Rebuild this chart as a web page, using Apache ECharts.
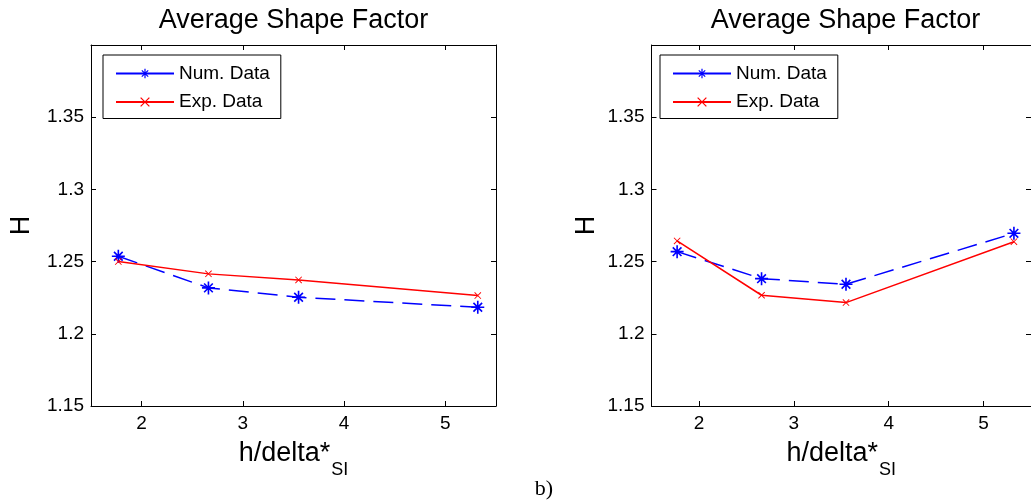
<!DOCTYPE html>
<html><head><meta charset="utf-8">
<script src="https://cdn.jsdelivr.net/npm/echarts@6/dist/echarts.min.js"></script>
<style>html,body{margin:0;padding:0;background:#fff}#c{width:1031px;height:502px}</style>
</head><body><div id="c"></div>
<script>
// ---- data ----
const xValues = [1.77, 2.66, 3.55, 5.32];
const numLeft = [1.2537, 1.2318, 1.2253, 1.2184];
const expLeft = [1.2500, 1.2415, 1.2373, 1.2265];
const numRight = [1.2569, 1.2382, 1.2343, 1.2696];
const expRight = [1.2643, 1.2267, 1.2216, 1.2638];
const xTicks = [2, 3, 4, 5];
const yTicks = [1.15, 1.2, 1.25, 1.3, 1.35];
const seriesNames = ['Num. Data', 'Exp. Data'];
const titleText = 'Average Shape Factor';
const xLabelMain = 'h/delta*';
const xLabelSub = 'SI';
const yLabel = 'H';
const panelLabel = 'b)';

// ---- styling ----
const FONT = 'Liberation Sans, Arial, Helvetica, sans-serif';
const ASTER = 'path://M10.5 0 H13.5 V24 H10.5 Z M0 10.5 H24 V13.5 H0 Z ' +
  'M2.94 5.06 L5.06 2.94 L21.06 18.94 L18.94 21.06 Z ' +
  'M18.94 2.94 L21.06 5.06 L5.06 21.06 L2.94 18.94 Z';
const XMARK = 'path://M-1.2 1.2 L1.2 -1.2 L25.2 22.8 L22.8 25.2 Z ' +
  'M22.8 -1.2 L25.2 1.2 L1.2 25.2 L-1.2 22.8 Z';

const grids = [
  { left: 91, top: 45, width: 405, height: 361 },
  { left: 651.5, top: 45, width: 388, height: 361 }
];
const panels = [
  { num: numLeft, exp: expLeft, yNameGap: 56, legendLeft: 103 },
  { num: numRight, exp: expRight, yNameGap: 51, legendLeft: 660 }
];

const lineAxis = { show: true, onZero: false, lineStyle: { color: '#000', width: 1 } };
const xAxes = [], yAxes = [], series = [], legends = [], titles = [];

panels.forEach((p, i) => {
  const g = grids[i];
  xAxes.push({
    type: 'value', gridIndex: i, position: 'bottom', min: 1.5, max: 5.5,
    axisLine: lineAxis,
    axisTick: { show: true, inside: true, length: 5, customValues: xTicks, lineStyle: { color: '#000' } },
    axisLabel: { show: true, customValues: xTicks, margin: 8, color: '#000', fontSize: 19, fontFamily: FONT },
    splitLine: { show: false },
    name: '{a|' + xLabelMain + '}{s|' + xLabelSub + '}',
    nameLocation: 'middle', nameGap: 34,
    nameTextStyle: {
      color: '#000',
      rich: {
        a: { fontSize: 27, fontFamily: FONT, color: '#000', verticalAlign: 'top' },
        s: { fontSize: 18, fontFamily: FONT, color: '#000', verticalAlign: 'top', padding: [21, 0, 0, 1] }
      }
    }
  });
  xAxes.push({
    type: 'value', gridIndex: i, position: 'top', min: 1.5, max: 5.5,
    axisLine: lineAxis,
    axisTick: { show: true, inside: true, length: 5, customValues: xTicks, lineStyle: { color: '#000' } },
    axisLabel: { show: false },
    splitLine: { show: false }
  });
  yAxes.push({
    type: 'value', gridIndex: i, position: 'left', min: 1.15, max: 1.4,
    axisLine: lineAxis,
    axisTick: { show: true, inside: true, length: 5, customValues: yTicks, lineStyle: { color: '#000' } },
    axisLabel: { show: true, customValues: yTicks, margin: 7, color: '#000', fontSize: 19, fontFamily: FONT },
    splitLine: { show: false },
    name: yLabel, nameLocation: 'middle', nameRotate: 90, nameGap: p.yNameGap,
    nameTextStyle: { fontSize: 27, fontFamily: FONT, color: '#000' }
  });
  yAxes.push({
    type: 'value', gridIndex: i, position: 'right', min: 1.15, max: 1.4,
    axisLine: lineAxis,
    axisTick: { show: true, inside: true, length: 5, customValues: yTicks, lineStyle: { color: '#000' } },
    axisLabel: { show: false },
    splitLine: { show: false }
  });
  series.push({
    type: 'line', name: seriesNames[0], xAxisIndex: 2 * i, yAxisIndex: 2 * i,
    data: xValues.map((x, k) => [x, p.num[k]]),
    symbol: ASTER, symbolSize: 13,
    lineStyle: { color: '#0000ff', width: 1.5, type: [20, 9] },
    itemStyle: { color: '#0000ff', borderWidth: 0 },
    z: 3
  });
  series.push({
    type: 'line', name: seriesNames[1], xAxisIndex: 2 * i, yAxisIndex: 2 * i,
    data: xValues.map((x, k) => [x, p.exp[k]]),
    symbol: XMARK, symbolSize: 7,
    lineStyle: { color: '#ff0000', width: 1.5, type: 'solid' },
    itemStyle: { color: '#ff0000', borderWidth: 0 },
    z: 3
  });
  legends.push({
    orient: 'vertical', left: p.legendLeft, top: 55,
    padding: [9, 11, 7, 12], itemGap: 9.5, itemWidth: 58, itemHeight: 12,
    backgroundColor: '#fff', borderColor: '#000', borderWidth: 1, borderRadius: 0,
    selectedMode: false,
    textStyle: { fontSize: 19, color: '#000', fontFamily: FONT },
    data: [
      { name: seriesNames[0], lineStyle: { type: 'solid' } },
      { name: seriesNames[1] }
    ]
  });
  titles.push({
    text: titleText, left: g.left + g.width / 2, top: 7, textAlign: 'center', padding: 0,
    textStyle: { fontSize: 27, fontWeight: 'normal', color: '#000', fontFamily: FONT }
  });
});
titles.push({
  text: panelLabel, left: 544, top: 478, textAlign: 'center', padding: 0,
  textStyle: { fontSize: 22, fontWeight: 'normal', color: '#000', fontFamily: 'Liberation Serif, Times New Roman, serif' }
});

const chart = echarts.init(document.getElementById('c'), null, { renderer: 'canvas' });
chart.setOption({
  animation: false,
  backgroundColor: '#fff',
  title: titles,
  legend: legends,
  grid: grids,
  xAxis: xAxes,
  yAxis: yAxes,
  series: series
});
</script>
</body></html>
